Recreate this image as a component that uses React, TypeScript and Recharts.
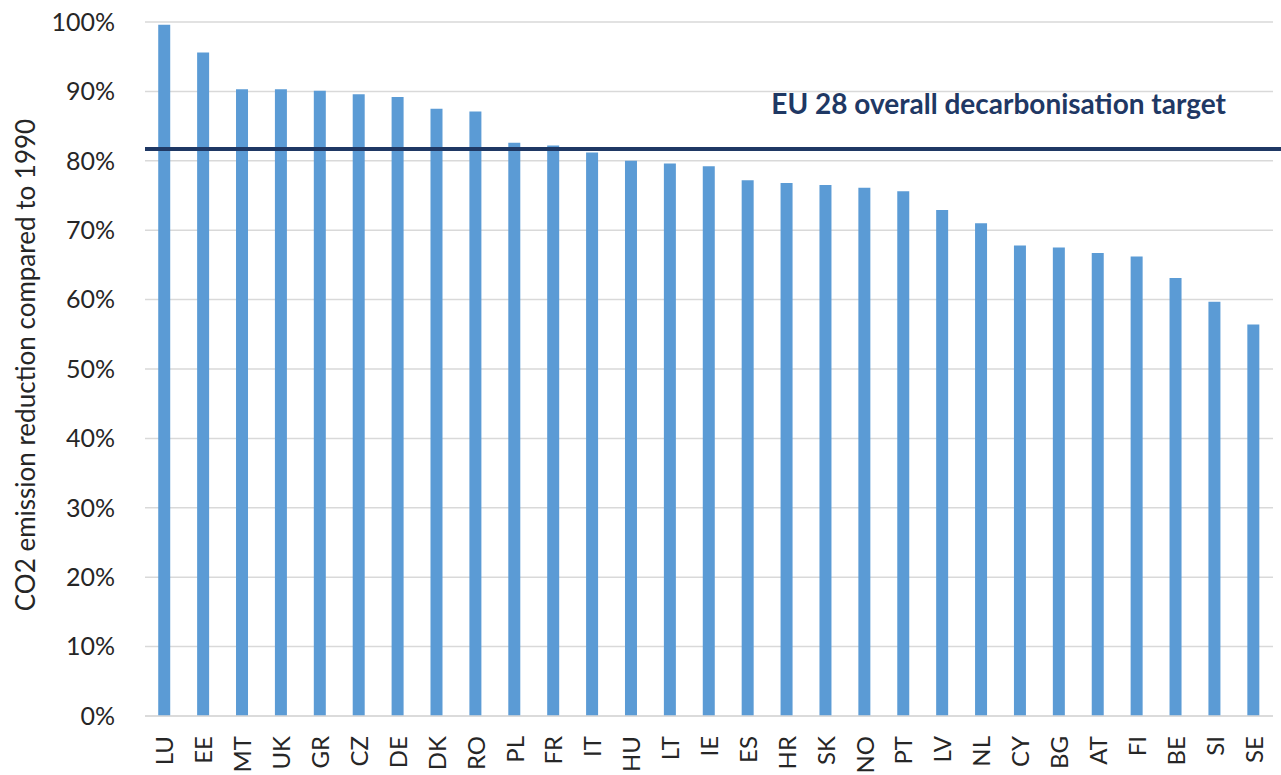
import { BarChart, Bar, XAxis, YAxis, CartesianGrid, ReferenceLine } from "recharts";

const countries = [
  "LU", "EE", "MT", "UK", "GR", "CZ", "DE", "DK", "RO", "PL",
  "FR", "IT", "HU", "LT", "IE", "ES", "HR", "SK", "NO", "PT",
  "LV", "NL", "CY", "BG", "AT", "FI", "BE", "SI", "SE",
];
const reduction = [
  99.6, 95.6, 90.3, 90.3, 90.1, 89.6, 89.2, 87.5, 87.1, 82.6,
  82.2, 81.2, 80.0, 79.6, 79.2, 77.2, 76.8, 76.5, 76.1, 75.6,
  72.9, 71.0, 67.8, 67.5, 66.7, 66.2, 63.1, 59.7, 56.4,
];
const yTicks = [0, 10, 20, 30, 40, 50, 60, 70, 80, 90, 100];
const target = 81.7;
const targetLabel = "EU 28 overall decarbonisation target";

const data = countries.map((c, i) => ({ country: c, value: reduction[i] }));

const FONT = "Lato, 'Liberation Sans', sans-serif";

function TargetShape(props: any) {
  const { x1, y1, x2, y2 } = props;
  return (
    <g>
      <line x1={x1} y1={y1} x2={x2 + 9} y2={y2} stroke="#1f3864" strokeWidth={4} />
      <text
        x={1226}
        y={y1 - 35}
        textAnchor="end"
        fontFamily={FONT}
        fontWeight={700}
        fontSize={28}
        fill="#1f3864"
      >
        {targetLabel}
      </text>
    </g>
  );
}

export default function App() {
  return (
    <div style={{ position: "absolute", left: 0, top: 0, background: "#fff" }}>
      <BarChart
        width={1281}
        height={775}
        data={data}
        margin={{ top: 22, right: 8, bottom: 0, left: 0 }}
        barCategoryGap="34%"
      >
        <CartesianGrid vertical={false} stroke="#d9d9d9" strokeWidth={1.5} />
        <XAxis
          dataKey="country"
          interval={0}
          height={59}
          axisLine={{ stroke: "#d9d9d9", strokeWidth: 1.5 }}
          tickLine={false}
          tick={(p: any) => (
            <text
              x={p.x}
              y={p.y}
              transform={`rotate(-90 ${p.x} ${p.y})`}
              dx={-12}
              dy={9}
              textAnchor="end"
              fontFamily={FONT}
              fontSize={24}
              fill="#262626"
            >
              {p.payload.value}
            </text>
          )}
        />
        <YAxis
          domain={[0, 100]}
          ticks={yTicks}
          width={145}
          axisLine={false}
          tickLine={false}
          tickFormatter={(v: number) => `${v}%`}
          tick={{ fontFamily: FONT, fontSize: 25, fill: "#262626", dx: -22 }}
          label={{
            value: "CO2 emission reduction compared to 1990",
            angle: -90,
            position: "insideLeft",
            dx: 21,
            dy: -4,
            style: { fontFamily: FONT, fontSize: 26, fill: "#262626", textAnchor: "middle" },
          }}
        />
        <Bar dataKey="value" fill="#5b9bd5" isAnimationActive={false} />
        <ReferenceLine y={target} shape={TargetShape} />
      </BarChart>
    </div>
  );
}
